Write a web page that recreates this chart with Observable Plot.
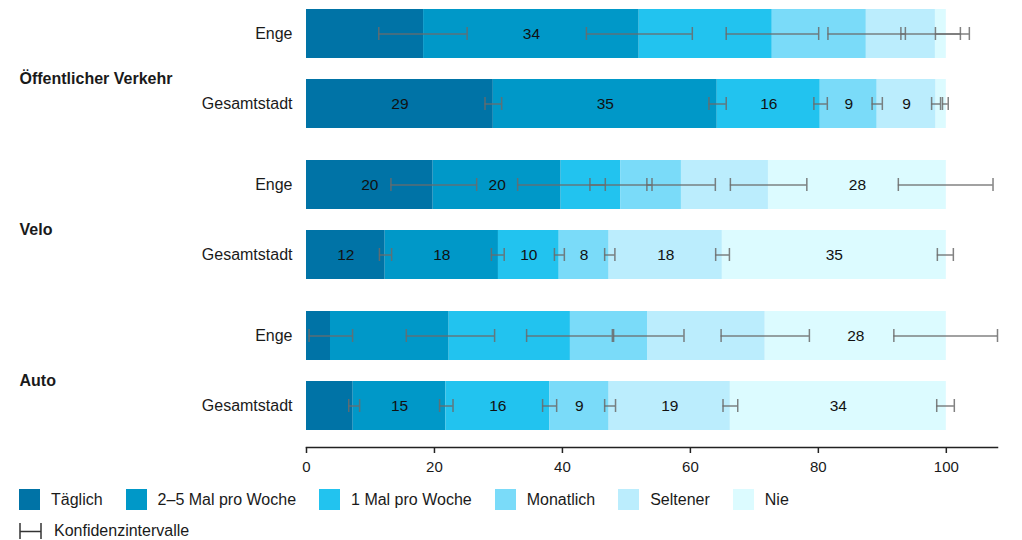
<!DOCTYPE html>
<html><head><meta charset="utf-8">
<script src="https://cdn.jsdelivr.net/npm/d3@7"></script>
<script src="https://cdn.jsdelivr.net/npm/@observablehq/plot@0.6"></script>
<style>
body{margin:0;background:#fff;font-family:"Liberation Sans",Arial,Helvetica,sans-serif;color:#1a1a1a}
#chart svg{display:block}
.legend{padding-left:19px;margin-top:9px;font-size:16px}
.row{display:flex;align-items:center;height:21px}
.item{display:flex;align-items:center;margin-right:23px}
.sw{width:21px;height:21px;margin-right:11px}
.row2{display:flex;align-items:center;height:16px;margin-top:13px}
.row2 svg{margin-right:12px;display:block}
</style></head><body>
<div id="chart"></div>
<div class="legend" id="legend"></div>
<script>
const groups = ["Öffentlicher Verkehr", "Velo", "Auto"];
const areas = ["Enge", "Gesamtstadt"];
const categories = ["Täglich", "2–5 Mal pro Woche", "1 Mal pro Woche", "Monatlich", "Seltener", "Nie"];
const colors = ["#0073a6", "#0098c8", "#22c3ef", "#7adbf9", "#bbedfd", "#dcfbff"];

const rowGroup = ["Öffentlicher Verkehr", "Öffentlicher Verkehr", "Velo", "Velo", "Auto", "Auto"];
const rowArea = ["Enge", "Gesamtstadt", "Enge", "Gesamtstadt", "Enge", "Gesamtstadt"];
const shares = [
  [18.3, 33.7, 20.8, 14.7, 10.8, 1.7],
  [29.2, 35.0, 16.1, 8.9, 9.2, 1.6],
  [19.8, 20.0, 9.3, 9.5, 13.6, 27.8],
  [12.3, 17.7, 9.5, 7.8, 17.7, 35.0],
  [3.75, 18.55, 18.95, 12.05, 18.4, 28.3],
  [7.3, 14.5, 16.2, 9.3, 18.95, 33.75]
];
const ciLow = [
  [11.3, 43.75, 65.6, 81.5, 92.9, 98.3],
  [27.9, 62.9, 79.3, 88.4, 97.7, 99.4],
  [13.2, 33.0, 44.3, 53.2, 66.25, 92.5],
  [11.4, 28.9, 38.75, 46.6, 63.95, 98.6],
  [0.4, 15.6, 34.4, 48.0, 64.8, 91.8],
  [6.6, 20.8, 36.9, 46.6, 65.1, 98.5]
];
const ciHigh = [
  [25.1, 60.3, 80.05, 93.6, 103.6, 102.2],
  [30.5, 65.6, 81.4, 90.0, 99.1, 100.3],
  [26.6, 46.7, 54.0, 63.9, 78.2, 107.3],
  [13.3, 30.9, 40.3, 48.2, 66.1, 101.1],
  [7.2, 29.4, 47.8, 59.0, 78.6, 108.0],
  [8.3, 22.9, 39.1, 48.3, 67.4, 101.25]
];
const showLabel = [
  [0, 1, 0, 0, 0, 0],
  [1, 1, 1, 1, 1, 0],
  [1, 1, 0, 0, 0, 1],
  [1, 1, 1, 1, 1, 1],
  [0, 0, 0, 0, 0, 1],
  [0, 1, 1, 1, 1, 1]
];
const xTicks = [0, 20, 40, 60, 80, 100];

const data = [];
rowGroup.forEach((g, r) => {
  categories.forEach((c, k) => {
    data.push({
      group: g, area: rowArea[r], category: c, value: shares[r][k],
      lo: ciLow[r][k], hi: ciHigh[r][k],
      label: showLabel[r][k] ? String(Math.round(shares[r][k])) : ""
    });
  });
});

const ciColor = "#6b6b6b";
const plot = Plot.plot({
  width: 1022, height: 480,
  marginLeft: 306, marginRight: 25, marginTop: 9, marginBottom: 31,
  style: {fontFamily: '"Liberation Sans", Arial, Helvetica, sans-serif', fontSize: "16px", color: "#1a1a1a", background: "#fff"},
  x: {domain: [0, 108], axis: null},
  y: {domain: areas, paddingInner: 0.298, paddingOuter: 0.1135, align: 0, axis: null},
  fy: {domain: groups, paddingInner: 0.1023, paddingOuter: 0, align: 0, axis: null},
  color: {domain: categories, range: colors},
  marks: [
    Plot.barX(data, Plot.stackX({x: "value", y: "area", fy: "group", fill: "category"})),
    Plot.text(data, Plot.stackX({x: "value", y: "area", fy: "group", text: "label", fill: "#111", fontSize: 15.5})),
    Plot.ruleY(data, {x1: "lo", x2: "hi", y: "area", fy: "group", stroke: ciColor, strokeWidth: 1.5, strokeOpacity: 0.85}),
    Plot.tickX(data, {x: "lo", y: "area", fy: "group", stroke: ciColor, strokeWidth: 1.5, strokeOpacity: 0.85, insetTop: 18, insetBottom: 18}),
    Plot.tickX(data, {x: "hi", y: "area", fy: "group", stroke: ciColor, strokeWidth: 1.5, strokeOpacity: 0.85, insetTop: 18, insetBottom: 18}),
    Plot.axisX({ticks: xTicks, tickSize: 6, tickPadding: 8, fontSize: 15, stroke: "#222", strokeWidth: 1.5, color: "#1a1a1a", label: null}),
    Plot.frame({anchor: "bottom", facet: "super", stroke: "#222", strokeWidth: 1.5}),
    Plot.axisY({tickSize: 0, tickPadding: 14, fontSize: 16, label: null}),
    Plot.text(groups, {fy: d => d, text: d => d, frameAnchor: "left", textAnchor: "start", dx: -287, dy: 1.5, fontWeight: "bold", fontSize: 16, fill: "#1a1a1a"})
  ]
});
document.getElementById("chart").appendChild(plot);

const legend = document.getElementById("legend");
const row = document.createElement("div");
row.className = "row";
categories.forEach((c, i) => {
  const it = document.createElement("div");
  it.className = "item";
  const sw = document.createElement("div");
  sw.className = "sw";
  sw.style.background = colors[i];
  const t = document.createElement("span");
  t.textContent = c;
  it.appendChild(sw); it.appendChild(t);
  row.appendChild(it);
});
legend.appendChild(row);
const row2 = document.createElement("div");
row2.className = "row2";
row2.innerHTML = '<svg width="23" height="17"><line x1="1" y1="0" x2="1" y2="17" stroke="#333" stroke-width="1.5"/><line x1="22" y1="0" x2="22" y2="17" stroke="#333" stroke-width="1.5"/><line x1="1" y1="8.5" x2="22" y2="8.5" stroke="#333" stroke-width="1.5"/></svg><span>Konfidenzintervalle</span>';
legend.appendChild(row2);
</script>
</body></html>
